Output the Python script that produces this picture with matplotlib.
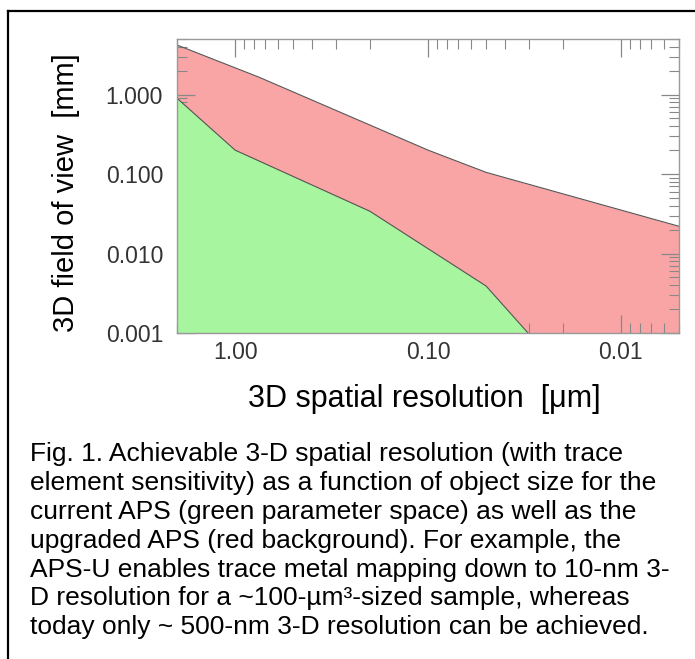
import numpy as np
import matplotlib
matplotlib.use("Agg")
import matplotlib.pyplot as plt
from matplotlib.lines import Line2D
from matplotlib.ticker import FixedLocator, LogLocator, NullFormatter

plt.rcParams['font.family'] = ['Liberation Sans', 'DejaVu Sans']

# upgraded APS (red) upper edge: resolution [um] vs field of view [mm]
red_res = [2.0, 0.75, 0.1, 0.05, 0.005]
red_fov = [4.2, 1.65, 0.2, 0.105, 0.022]

# current APS (green) upper edge
green_res = [2.0, 1.0, 0.2, 0.05, 0.0303]
green_fov = [0.9, 0.2, 0.034, 0.0039, 0.001]

x_ticks = [1.0, 0.1, 0.01]
x_labels = ['1.00', '0.10', '0.01']
y_ticks = [0.001, 0.01, 0.1, 1.0]
y_labels = ['0.001', '0.010', '0.100', '1.000']

caption = [
    "Fig. 1. Achievable 3-D spatial resolution (with trace",
    "element sensitivity) as a function of object size for the",
    "current APS (green parameter space) as well as the",
    "upgraded APS (red background). For example, the",
    "APS-U enables trace metal mapping down to 10-nm 3-",
    "D resolution for a ~100-\u00b5m\u00b3-sized sample, whereas",
    "today only ~ 500-nm 3-D resolution can be achieved.",
]

W, H = 695, 659
fig = plt.figure(figsize=(W / 100, H / 100), dpi=100)
ax = fig.add_axes([177 / W, 1 - 333 / H, 502 / W, 294 / H])

ymin = 0.001
ax.fill_between(red_res, ymin, red_fov, color='#f9a5a5', lw=0, zorder=1)
ax.fill_between(green_res, ymin, green_fov, color='#a8f5a0', lw=0, zorder=2)
ax.plot(red_res, red_fov, color='#555555', lw=0.8, zorder=3)
ax.plot(green_res, green_fov, color='#555555', lw=0.8, zorder=3)

ax.set_xscale('log')
ax.set_yscale('log')
ax.set_xlim(2.0, 0.005)
ax.set_ylim(0.001, 5.0)

ax.xaxis.set_major_locator(FixedLocator(x_ticks))
ax.set_xticklabels(x_labels)
ax.yaxis.set_major_locator(FixedLocator(y_ticks))
ax.set_yticklabels(y_labels)
ax.xaxis.set_minor_locator(LogLocator(base=10, subs=np.arange(2, 10)))
ax.yaxis.set_minor_locator(LogLocator(base=10, subs=np.arange(2, 10)))
ax.xaxis.set_minor_formatter(NullFormatter())
ax.yaxis.set_minor_formatter(NullFormatter())

ax.tick_params(which='both', direction='in', top=True, right=True,
               colors='#888888', labelcolor='#333333', labelsize=16.5)
ax.tick_params(which='major', length=13, width=0.9)
ax.tick_params(which='minor', length=7, width=0.8)
ax.tick_params(axis='x', pad=6)
ax.tick_params(axis='y', pad=10)
for s in ax.spines.values():
    s.set_color('#999999')
    s.set_linewidth(1.0)
    s.set_zorder(4)

fig.text(66 / W, 1 - 193 / H, "3D field of view  [mm]", rotation=90,
         ha='center', va='center', fontsize=21)
fig.text(424 / W, 1 - 407 / H, "3D spatial resolution  [\u03bcm]",
         ha='center', va='baseline', fontsize=22)

for i, line in enumerate(caption):
    fig.text(30 / W, 1 - (461 + i * 28.9) / H, line, ha='left',
             va='baseline', fontsize=19)

# frame around the figure (left and top edges)
fig.add_artist(Line2D([8 / W, 8 / W], [0, 1 - 11 / H], color='black', lw=1.6))
fig.add_artist(Line2D([8 / W, 1], [1 - 11 / H, 1 - 11 / H], color='black', lw=1.6))

fig.savefig('out.png', dpi=100)
